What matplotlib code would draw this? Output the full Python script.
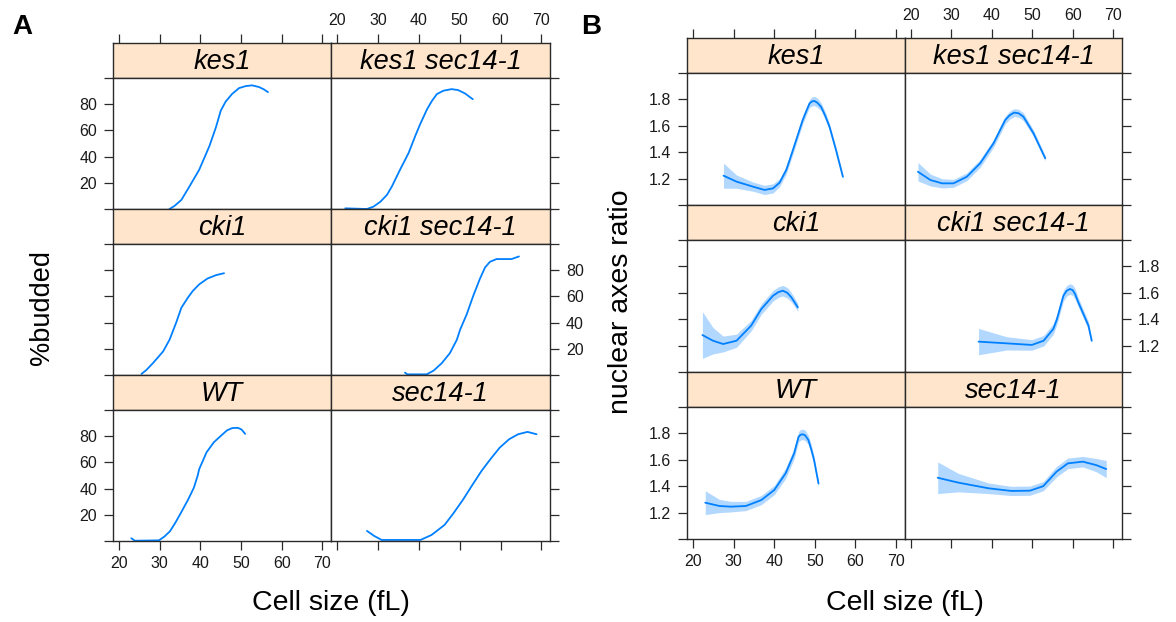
import matplotlib
matplotlib.use('Agg')
import matplotlib.pyplot as plt
import numpy as np

plt.rcParams['font.family'] = ['Liberation Sans', 'DejaVu Sans']

W, H = 1176, 622

# ---------------- data ----------------
strain_labels = ['kes1', 'kes1 sec14-1', 'cki1', 'cki1 sec14-1', 'WT', 'sec14-1']
x_ticks = [20, 30, 40, 50, 60, 70]
budded_ticks = [20, 40, 60, 80]
ratio_ticks = [1.2, 1.4, 1.6, 1.8]

# Panel A: %budded vs cell size
bud_kes1_x = [32.4, 33.6, 35.3, 37.3, 39.7, 42.2, 43.8, 45.0, 46.2, 47.8, 49.5, 51.1, 52.7, 54.4, 55.6, 56.6]
bud_kes1_y = [0, 2.3, 6.9, 17.2, 30, 48, 62.3, 75.1, 82, 87.9, 92.3, 93.8, 94.4, 93.1, 91.3, 89.2]
bud_kes1sec_x = [22.0, 27.3, 28.9, 30.6, 32.2, 33.4, 35.4, 37.5, 39.1, 40.3, 42.0, 43.2, 44.4, 46.0, 48.0, 49.6, 51.3, 53.2]
bud_kes1sec_y = [0.5, 0, 1.8, 5.6, 10.8, 17.2, 30, 42.8, 55.6, 64.6, 76.1, 82.5, 87.7, 90.3, 91.5, 90.8, 88.2, 83.8]
bud_cki1_x = [25.5, 26.7, 28.3, 30.8, 32.4, 34.0, 35.3, 36.9, 38.1, 39.7, 41.7, 43.8, 45.8]
bud_cki1_y = [0.8, 3.8, 9.0, 17.9, 26.9, 39.7, 51.3, 59, 64.1, 69.2, 73.6, 76.2, 77.7]
bud_cki1sec_x = [36.6, 37.2, 41.9, 43.6, 45.6, 47.6, 49.3, 50.1, 51.7, 53.3, 54.9, 56.2, 57.4, 59.0, 62.7, 64.5]
bud_cki1sec_y = [1.8, 0.5, 0.5, 3.3, 9.0, 16.7, 26.9, 34.6, 46.2, 60.3, 73.1, 82.1, 86.4, 88.5, 88.5, 90.5]
bud_wt_x = [23.0, 23.9, 29.8, 31.1, 32.5, 33.8, 35.2, 37.0, 38.4, 39.3, 39.7, 40.6, 41.5, 43.3, 45.1, 46.5, 47.8, 49.2, 50.1, 51.0]
bud_wt_y = [2.1, 0.2, 0.5, 3.3, 7.4, 13.8, 21.5, 31.8, 40.8, 49.7, 54.9, 61.3, 67.7, 75.4, 80.5, 84.4, 86.2, 86.4, 85.1, 81.8]
bud_sec_x = [27.3, 29.1, 30.9, 40.4, 43.1, 46.3, 48.5, 50.8, 53.0, 55.3, 57.6, 59.8, 62.1, 64.3, 66.6, 68.8]
bud_sec_y = [7.7, 3.8, 0.8, 0.8, 4.6, 12.3, 21.3, 31.5, 42.3, 53.3, 62.8, 71.3, 77.7, 81.5, 83.3, 81.5]

# Panel B: nuclear axes ratio vs cell size (fit and half-width of band)
rat_kes1_x = [27.5, 30.7, 34.75, 37.6, 39.7, 41.3, 42.95, 44.6, 47.0, 48.0, 48.7, 49.3, 49.9, 50.6, 51.5, 52.5, 53.6, 55.2, 56.9]
rat_kes1_y = [1.222, 1.177, 1.139, 1.114, 1.126, 1.169, 1.265, 1.417, 1.644, 1.72, 1.77, 1.785, 1.788, 1.775, 1.745, 1.68, 1.593, 1.417, 1.214]
rat_kes1_se = [0.095, 0.05, 0.035, 0.035, 0.035, 0.03, 0.03, 0.03, 0.03, 0.03, 0.03, 0.035, 0.035, 0.035, 0.03, 0.03, 0.025, 0.02, 0.02]
rat_kes1sec_x = [21.7, 24.8, 27.7, 30.5, 33.8, 37.1, 40.4, 43.3, 44.4, 45.5, 46.6, 47.8, 50.3, 53.2]
rat_kes1sec_y = [1.252, 1.189, 1.164, 1.164, 1.214, 1.316, 1.467, 1.644, 1.68, 1.70, 1.695, 1.669, 1.543, 1.354]
rat_kes1sec_se = [0.07, 0.045, 0.035, 0.03, 0.03, 0.03, 0.03, 0.03, 0.03, 0.03, 0.03, 0.03, 0.025, 0.02]
rat_cki1_x = [22.3, 24.9, 27.4, 30.7, 34.3, 36.8, 39.7, 41.0, 42.1, 43.2, 44.2, 45.8]
rat_cki1_y = [1.280, 1.237, 1.212, 1.237, 1.351, 1.477, 1.578, 1.605, 1.616, 1.60, 1.566, 1.490]
rat_cki1_se = [0.177, 0.10, 0.06, 0.05, 0.04, 0.04, 0.04, 0.04, 0.04, 0.04, 0.035, 0.03]
rat_cki1sec_x = [36.7, 43.7, 49.9, 52.8, 55.2, 56.1, 57.7, 58.5, 59.3, 60.0, 60.6, 61.4, 63.9, 64.7]
rat_cki1sec_y = [1.230, 1.217, 1.205, 1.237, 1.326, 1.40, 1.578, 1.615, 1.629, 1.62, 1.59, 1.527, 1.351, 1.237]
rat_cki1sec_se = [0.10, 0.05, 0.04, 0.04, 0.04, 0.04, 0.04, 0.04, 0.04, 0.04, 0.04, 0.035, 0.03, 0.02]
rat_wt_x = [23.0, 26.5, 29.3, 33.0, 36.8, 40.0, 42.8, 44.9, 45.5, 46.0, 46.5, 47.0, 47.6, 48.4, 49.1, 49.8, 50.4, 50.9]
rat_wt_y = [1.275, 1.25, 1.245, 1.25, 1.295, 1.371, 1.498, 1.649, 1.72, 1.775, 1.79, 1.793, 1.785, 1.75, 1.68, 1.598, 1.50, 1.42]
rat_wt_se = [0.09, 0.05, 0.04, 0.035, 0.035, 0.035, 0.04, 0.04, 0.04, 0.04, 0.04, 0.04, 0.04, 0.035, 0.035, 0.03, 0.025, 0.02]
rat_sec_x = [26.6, 31.7, 39.2, 44.8, 49.4, 52.7, 56.0, 58.8, 62.5, 65.8, 68.3]
rat_sec_y = [1.464, 1.427, 1.384, 1.364, 1.366, 1.40, 1.51, 1.573, 1.586, 1.56, 1.53]
rat_sec_se = [0.12, 0.07, 0.04, 0.035, 0.035, 0.035, 0.04, 0.04, 0.04, 0.05, 0.065]

budded_series = [(bud_kes1_x, bud_kes1_y, None), (bud_kes1sec_x, bud_kes1sec_y, None),
                 (bud_cki1_x, bud_cki1_y, None), (bud_cki1sec_x, bud_cki1sec_y, None),
                 (bud_wt_x, bud_wt_y, None), (bud_sec_x, bud_sec_y, None)]
ratio_series = [(rat_kes1_x, rat_kes1_y, rat_kes1_se), (rat_kes1sec_x, rat_kes1sec_y, rat_kes1sec_se),
                (rat_cki1_x, rat_cki1_y, rat_cki1_se), (rat_cki1sec_x, rat_cki1sec_y, rat_cki1sec_se),
                (rat_wt_x, rat_wt_y, rat_wt_se), (rat_sec_x, rat_sec_y, rat_sec_se)]

# ---------------- styling ----------------
LINE = '#0080ff'
STRIP = '#ffe5cc'
EDGE = '#2a2a2a'
TXT = '#1a1a1a'

fig = plt.figure(figsize=(W / 100, H / 100), dpi=100)


def add_ax(x0, x1, ytop, ybot):
    return fig.add_axes([x0 / W, 1 - ybot / H, (x1 - x0) / W, (ybot - ytop) / H])


def style_spines(ax):
    for s in ax.spines.values():
        s.set_color(EDGE)
        s.set_linewidth(1.0)


def draw_block(cols, rows, xlim, ylim, yticks, ylabel_fmt, series):
    for i, (xs, ys, se) in enumerate(series):
        r, c = divmod(i, 2)
        x0, x1 = cols[c], cols[c + 1]
        st, sb, pb = rows[2 * r], rows[2 * r + 1], rows[2 * r + 2]
        # strip
        sax = add_ax(x0, x1, st, sb)
        sax.set_facecolor(STRIP)
        sax.set_xlim(*xlim)
        sax.set_ylim(0, 1)
        style_spines(sax)
        sax.set_yticks([])
        sax.text(0.5, 0.47, strain_labels[i], transform=sax.transAxes, ha='center', va='center',
                 fontsize=19.5, style='italic', color='black')
        if r == 0:
            sax.set_xticks(x_ticks)
            sax.set_xticklabels([str(t) for t in x_ticks] if c == 1 else [''] * len(x_ticks))
            sax.tick_params(axis='x', top=True, bottom=False, labeltop=True, labelbottom=False,
                            direction='out', length=6.5, width=0.9, color=EDGE,
                            labelsize=11.5, labelcolor=TXT, pad=4)
        else:
            sax.set_xticks([])
        # panel
        ax = add_ax(x0, x1, sb, pb)
        ax.set_xlim(*xlim)
        ax.set_ylim(*ylim)
        style_spines(ax)
        if se is not None:
            xa = np.asarray(xs)
            ya = np.asarray(ys)
            sa = np.asarray(se)
            ax.fill_between(xa, ya - sa, ya + sa, color=LINE, alpha=0.3, lw=0)
        ax.plot(xs, ys, color=LINE, lw=1.3, solid_capstyle='round', solid_joinstyle='round')
        ticks_all = [ylim[0]] + list(yticks) + [ylim[1]]
        labels = [''] + [ylabel_fmt(t) for t in yticks] + ['']
        ax.set_yticks(ticks_all)
        ax.set_yticklabels(labels)
        show_lab = (c == 0 and r != 1) or (c == 1 and r == 1)
        ax.tick_params(axis='y', left=(c == 0), right=(c == 1),
                       labelleft=(c == 0 and show_lab), labelright=(c == 1 and show_lab),
                       direction='out', length=6.5, width=0.9, color=EDGE,
                       labelsize=11.5, labelcolor=TXT, pad=5)
        if r == 2:
            ax.set_xticks(x_ticks)
            ax.set_xticklabels([str(t) for t in x_ticks] if c == 0 else [''] * len(x_ticks))
            ax.tick_params(axis='x', bottom=True, top=False, direction='out', length=6.5,
                           width=0.9, color=EDGE, labelsize=11.5, labelcolor=TXT, pad=4)
        else:
            ax.set_xticks([])


draw_block([113, 331, 550], [43, 78, 209, 244, 375, 410, 541], (18.5, 72.1), (0, 100),
           budded_ticks, lambda t: f'{t:d}', budded_series)
draw_block([687, 905, 1122], [38, 73, 205, 240, 372, 407, 539], (18.5, 72.2), (1.0, 2.0),
           ratio_ticks, lambda t: f'{t:.1f}', ratio_series)

# axis titles and panel letters
fig.text(42 / W, 1 - 307 / H, '%budded', rotation=90, ha='center', va='center', fontsize=19.5, color='black')
fig.text(621 / W, 1 - 302 / H, 'nuclear axes ratio', rotation=90, ha='center', va='center', fontsize=20.5, color='black')
fig.text(331 / W, 1 - 603 / H, 'Cell size (fL)', ha='center', va='center', fontsize=20.5, color='black')
fig.text(905 / W, 1 - 603 / H, 'Cell size (fL)', ha='center', va='center', fontsize=20.5, color='black')
fig.text(22 / W, 1 - 27 / H, 'A', ha='center', va='center', fontsize=20, fontweight='bold', color='black')
fig.text(591 / W, 1 - 27 / H, 'B', ha='center', va='center', fontsize=20, fontweight='bold', color='black')

fig.savefig('out.png', dpi=100)
